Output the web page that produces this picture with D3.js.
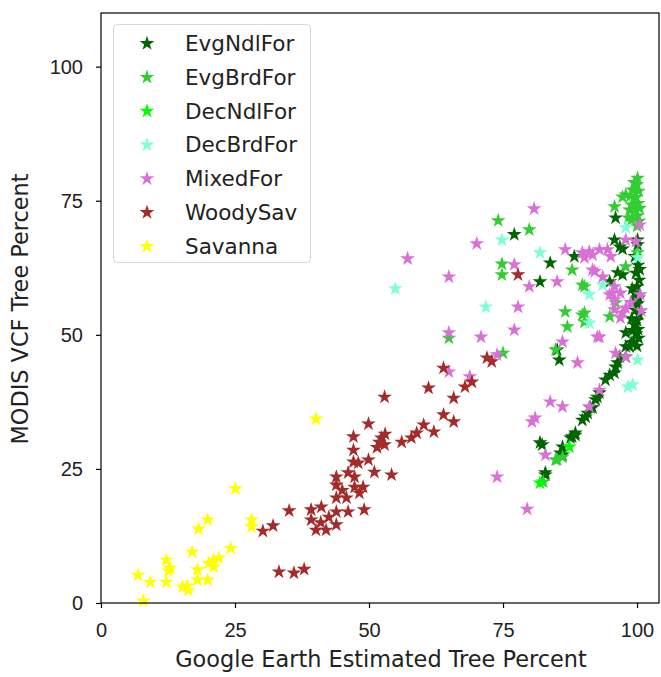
<!DOCTYPE html>
<html>
<head>
<meta charset="utf-8">
<script src="https://cdn.jsdelivr.net/npm/d3@7"></script>
<style>
  body { margin: 0; background: #fff; }
  svg { display: block; font-family: "DejaVu Sans", sans-serif; }
  .axis text { font-size: 20px; fill: #222; }
  .axis path, .axis line { stroke: #000; stroke-width: 1.2; }
</style>
</head>
<body>
<div id="chart"></div>
<script>
// class names, in plotting order
var classNames = ["EvgNdlFor", "EvgBrdFor", "DecNdlFor", "DecBrdFor", "MixedFor", "WoodySav", "Savanna"];
var classColors = ["darkgreen", "limegreen", "lime", "aquamarine", "orchid", "brown", "yellow"];

// [google earth %, modis vcf %]
var evgNdlFor = [
  [77.1,68.7],[81.9,59.9],[83.8,63.4],[88.3,64.6],[85.5,45.3],[85.1,47.2],[96.0,71.8],[95.8,67.7],
  [96.8,66.4],[97.3,66.0],[100.1,67.7],[100.1,66.8],[94.9,59.9],[97.3,61.2],[96.4,61.6],
  [100.2,63.0],[99.8,61.5],[100.4,60.2],[100.0,59.0],[99.6,57.8],[100.3,56.9],[100.1,55.8],[99.7,54.6],
  [100.4,53.8],[100.0,52.7],[99.5,51.9],[100.2,51.0],[99.8,50.2],[100.3,49.4],[99.4,48.6],[100.0,47.9],
  [98.9,48.5],[99.2,50.8],[98.6,47.8],[99.0,53.0],[99.3,56.0],[99.1,58.6],[100.5,62.2],[99.6,64.6],
  [97.9,50.4],[97.9,47.8],[96.8,45.9],[96.0,44.0],[94.9,42.5],[94.1,41.6],[97.9,45.9],[96.4,44.8],
  [95.8,42.9],[93.0,39.2],[92.6,38.4],[92.3,37.9],[91.7,36.4],[91.3,36.4],[90.8,35.4],[90.4,34.7],
  [89.8,34.1],[88.5,31.7],[88.5,31.3],[87.9,31.0],[87.6,30.8],[86.1,29.1],[85.7,28.0],[86.1,27.6],
  [82.3,29.5],[81.9,29.9],[82.9,24.3],[82.9,23.9]
];
var evgBrdFor = [
  [74.1,71.3],[79.9,69.6],[74.8,63.2],[74.8,61.2],[64.9,49.4],[75.0,46.6],[87.9,62.1],[89.8,59.3],
  [86.6,54.3],[87.0,51.5],[89.8,53.7],[90.2,52.4],[84.8,47.2],[95.8,73.9],[97.9,76.1],[96.0,56.0],
  [94.9,53.4],[84.8,26.7],[86.1,27.2],[100.1,79.2],[100.0,78.0],[100.3,76.8],[99.8,75.6],[100.2,74.5],
  [99.6,73.3],[100.1,72.2],[100.4,71.2],[99.2,77.0],[98.6,73.3],[97.3,75.7],[99.0,71.5],[100.0,70.3],
  [97.9,62.7],[100.1,65.3],[90.2,59.0],[90.2,54.1],[85.1,26.7],[82.5,22.6],
  [99.0,74.2],[98.8,75.9],[100.5,73.6],[99.5,78.4],[98.4,71.8]
];
var decNdlFor = [[81.9,22.4],[87.4,29.1]];
var decBrdFor = [
  [54.9,58.6],[71.8,55.2],[74.8,67.7],[81.9,65.3],[91.1,57.5],[97.9,70.0],[100.1,64.4],[100.1,45.3],
  [98.3,40.3],[99.2,40.7],[93.6,59.3],[91.1,52.2]
];
var mixedFor = [
  [80.8,73.5],[70.1,67.0],[57.2,64.2],[64.9,60.8],[77.1,63.1],[79.9,59.0],[77.8,55.2],[77.1,50.9],
  [70.9,49.6],[64.9,50.4],[64.9,43.1],[68.8,42.2],[73.9,46.3],[85.1,59.9],[86.6,65.9],[89.8,65.3],
  [91.7,64.9],[93.0,65.9],[94.5,65.9],[95.1,64.6],[92.1,61.8],[93.6,60.8],[95.4,57.8],[95.8,56.5],
  [97.3,54.1],[96.9,53.2],[99.8,67.4],[100.5,70.5],[93.0,49.6],[86.1,48.7],[88.9,44.8],[83.8,37.5],
  [86.1,36.6],[80.4,33.8],[81.0,34.5],[82.9,27.6],[73.9,23.5],[79.5,17.5],[93.0,39.7],[91.1,36.6],
  [97.9,45.9],[95.8,59.0],[91.1,65.5],[90.2,64.4],[91.7,62.1],[97.9,67.7],[96.9,57.8],[94.9,57.5],
  [97.9,55.0],[92.6,49.6],[96.0,46.6],[95.8,54.7],[100.6,57.5],[100.8,54.5],[98.8,56.0]
];
var woodySav = [
  [33.2,5.8],[36.0,5.6],[37.9,6.3],[30.2,13.4],[32.1,14.4],[35.1,17.2],[39.2,17.4],[41.1,17.9],
  [39.2,15.5],[40.1,13.6],[42.0,13.6],[43.9,14.6],[43.9,17.0],[43.9,19.6],[43.9,22.0],[43.9,23.5],
  [45.8,19.6],[46.1,17.0],[46.1,24.3],[47.3,23.5],[47.3,21.6],[48.2,20.5],[48.9,21.6],[49.1,17.4],
  [47.1,26.3],[47.1,28.5],[47.1,31.0],[48.0,26.1],[49.9,26.7],[49.9,33.4],[51.0,24.4],[51.9,30.0],
  [52.9,29.5],[52.3,30.8],[54.2,23.9],[52.9,38.4],[56.1,30.0],[57.9,30.8],[58.9,31.7],[60.2,33.2],
  [62.1,31.9],[63.9,35.1],[65.8,33.8],[65.8,38.2],[61.1,40.1],[63.9,43.8],[67.9,40.3],[69.2,41.2],
  [72.0,45.7],[72.9,45.0],[77.8,61.2],[41.0,15.0],[42.5,16.0],[45.0,21.0],[53.0,31.5],[51.5,29.0]
];
var savanna = [
  [6.9,5.2],[7.9,0.4],[9.2,3.9],[12.2,8.0],[12.2,3.9],[12.9,6.5],[15.2,3.0],[16.3,2.4],[17.0,9.5],
  [18.0,6.2],[18.2,13.8],[18.0,4.3],[19.9,15.5],[19.9,4.3],[20.1,7.4],[21.0,8.0],[22.0,8.4],
  [24.2,10.2],[25.1,21.3],[28.1,15.5],[28.1,14.2],[40.1,34.3],[16.1,3.2],[21.0,6.7],[12.6,6.0]
];
var classPoints = [evgNdlFor, evgBrdFor, decNdlFor, decBrdFor, mixedFor, woodySav, savanna];

var tickValues = [0, 25, 50, 75, 100];
var xLimits = [0, 104.1];
var yLimits = [0, 110];

var width = 661, height = 677;
var margin = {top: 13, right: 2, bottom: 74, left: 101};
var plotW = width - margin.left - margin.right;
var plotH = height - margin.top - margin.bottom;

var svg = d3.select("#chart").append("svg")
    .attr("width", width)
    .attr("height", height);

var g = svg.append("g")
    .attr("transform", `translate(${margin.left}, ${margin.top})`);

var xScale = d3.scaleLinear().domain(xLimits).range([0, plotW]);
var yScale = d3.scaleLinear().domain(yLimits).range([plotH, 0]);

var star = d3.symbol().type(d3.symbolStar).size(68);

/* points */
classPoints.forEach((pts, i) => {
    g.append("g")
        .attr("class", "class-" + classNames[i])
        .selectAll("path")
        .data(pts).enter()
        .append("path")
        .attr("d", star)
        .attr("transform", d => `translate(${xScale(d[0])}, ${yScale(d[1])})`)
        .style("fill", classColors[i]);
});

/* axes */
g.append("g")
    .attr("class", "x axis")
    .attr("transform", `translate(0, ${plotH})`)
    .call(d3.axisBottom(xScale).tickValues(tickValues).tickSize(5).tickPadding(15).tickSizeOuter(0));

g.append("g")
    .attr("class", "y axis")
    .call(d3.axisLeft(yScale).tickValues(tickValues).tickSize(5).tickPadding(13).tickSizeOuter(0));

g.selectAll(".axis path.domain").remove();

/* frame */
g.append("rect")
    .attr("width", plotW).attr("height", plotH)
    .style("fill", "none").style("stroke", "#000").style("stroke-width", 1.2);

/* axis labels */
svg.append("text")
    .attr("x", margin.left + 280).attr("y", 667)
    .attr("text-anchor", "middle")
    .style("font-size", "22.4px").style("fill", "#222")
    .text("Google Earth Estimated Tree Percent");

svg.append("text")
    .attr("transform", `translate(28, 309) rotate(-90)`)
    .attr("text-anchor", "middle")
    .style("font-size", "22.4px").style("fill", "#222")
    .text("MODIS VCF Tree Percent");

/* legend */
var legend = svg.append("g").attr("class", "legend");
legend.append("rect")
    .attr("x", 113.5).attr("y", 24.5)
    .attr("width", 197).attr("height", 238)
    .attr("rx", 4)
    .style("fill", "#fff").style("fill-opacity", 0.8)
    .style("stroke", "#d6d6d6");

var rows = legend.selectAll(".row")
    .data(classNames).enter()
    .append("g")
    .attr("transform", (d, i) => `translate(147, ${43.5 + 33.8 * i})`);

rows.append("path")
    .attr("d", star)
    .style("fill", (d, i) => classColors[i]);

rows.append("text")
    .attr("x", 38).attr("y", 7.5)
    .style("font-size", "21.5px").style("fill", "#222")
    .text(d => d);
</script>
</body>
</html>
